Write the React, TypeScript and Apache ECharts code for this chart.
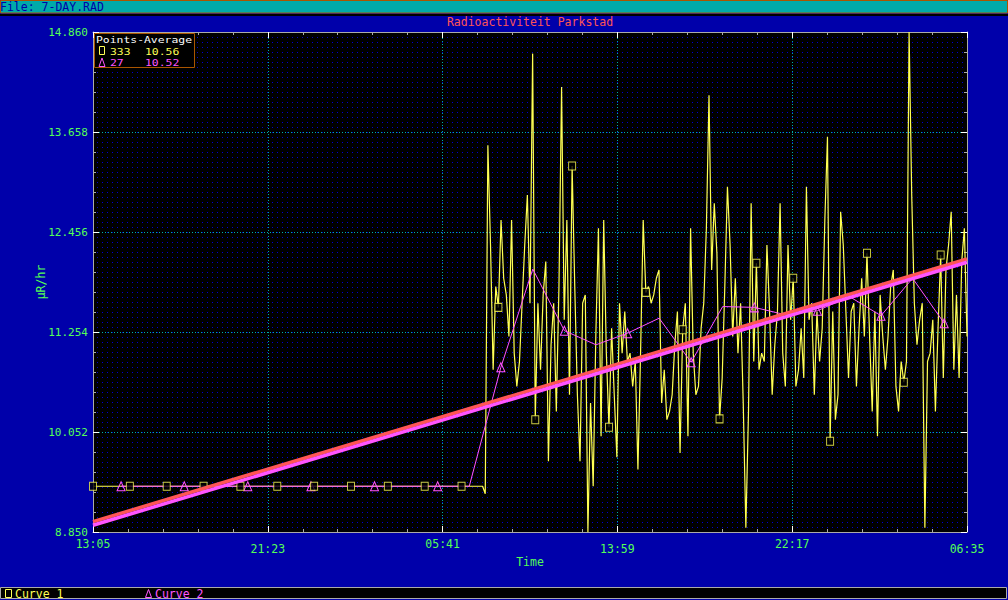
import React, { useEffect, useRef } from "react";
import * as echarts from "echarts";

// ---------- data ----------
const X_TICK_LABELS = ["13:05", "21:23", "05:41", "13:59", "22:17", "06:35"];
const X_MAX_MINUTES = 2490;
const X_STEP_MINUTES = 498;
const Y_MIN = 8.85;
const Y_MAX = 14.86;
const Y_STEP = 1.202;

// Curve 1: one reading every 7.5 minutes (333 points)
const SAMPLE_STEP_MINUTES = 7.5;
const CURVE1_VALUES = [
  9.4, 9.4, 9.4, 9.4, 9.4, 9.4, 9.4, 9.4, 9.4, 9.4, 9.4, 9.4, 9.4, 9.4,
  9.4, 9.4, 9.4, 9.4, 9.4, 9.4, 9.4, 9.4, 9.4, 9.4, 9.4, 9.4, 9.4, 9.4,
  9.4, 9.4, 9.4, 9.4, 9.4, 9.4, 9.4, 9.4, 9.4, 9.4, 9.4, 9.4, 9.4, 9.4,
  9.4, 9.4, 9.4, 9.4, 9.4, 9.4, 9.4, 9.4, 9.4, 9.4, 9.4, 9.4, 9.4, 9.4,
  9.4, 9.4, 9.4, 9.4, 9.4, 9.4, 9.4, 9.4, 9.4, 9.4, 9.4, 9.4, 9.4, 9.4,
  9.4, 9.4, 9.4, 9.4, 9.4, 9.4, 9.4, 9.4, 9.4, 9.4, 9.4, 9.4, 9.4, 9.4,
  9.4, 9.4, 9.4, 9.4, 9.4, 9.4, 9.4, 9.4, 9.4, 9.4, 9.4, 9.4, 9.4, 9.4,
  9.4, 9.4, 9.4, 9.4, 9.4, 9.4, 9.4, 9.4, 9.4, 9.4, 9.4, 9.4, 9.4, 9.4,
  9.4, 9.4, 9.4, 9.4, 9.4, 9.4, 9.4, 9.4, 9.4, 9.4, 9.4, 9.4, 9.4, 9.4,
  9.4, 9.4, 9.4, 9.4, 9.4, 9.4, 9.4, 9.4, 9.4, 9.4, 9.4, 9.4, 9.4, 9.4,
  9.4, 9.4, 9.4, 9.4, 9.4, 9.4, 9.4, 9.4, 9.4,
  9.31, 13.5, 12.3, 10.8, 11.8, 11.55, 12.6, 11.9, 11.7, 11.2,
  12.6, 11.0, 10.6, 10.9, 11.6, 12.3, 12.9, 11.6, 14.6, 10.2,
  11.6, 10.8, 11.7, 12.1, 9.7, 11.1, 11.6, 10.3, 11.8, 14.2,
  11.4, 12.6, 10.5, 13.25, 11.8, 10.5, 9.7, 11.6, 11.7, 8.85,
  10.4, 9.4, 11.2, 12.5, 10.0, 12.6, 11.0, 10.11, 11.3, 10.5,
  9.75, 11.6, 11.0, 11.5, 10.9, 11.0, 10.6, 10.9, 9.6, 11.0,
  12.6, 11.73, 11.8, 11.6, 11.7, 11.9, 12.0, 10.4, 10.8, 10.2,
  10.3, 10.5, 11.1, 11.5, 9.8, 11.28, 11.6, 10.0, 12.5, 11.0,
  10.5, 10.6, 11.3, 11.6, 12.5, 14.1, 12.0, 12.8, 12.2, 10.21,
  10.7, 11.8, 13.0, 12.3, 11.2, 11.9, 11.0, 11.6, 10.4, 8.9,
  10.3, 12.8, 10.9, 12.08, 10.8, 11.0, 10.9, 12.3, 11.5, 10.5,
  11.1, 11.5, 12.8, 11.0, 10.6, 12.3, 11.4, 11.9, 10.6, 10.8,
  11.3, 10.7, 13.0, 11.4, 11.6, 10.5, 11.5, 10.9, 11.3, 12.6,
  13.6, 9.94, 11.5, 10.2, 10.5, 12.7, 12.3, 11.5, 10.7, 11.5,
  11.6, 10.6, 11.3, 11.9, 11.2, 12.2, 11.2, 10.3, 11.5, 10.0,
  11.7, 11.2, 10.8, 11.2, 11.8, 12.0, 10.6, 10.3, 10.9, 10.65,
  10.9, 14.86, 12.9, 11.6, 11.1, 11.4, 11.6, 8.9, 10.9, 11.0,
  11.4, 10.3, 11.3, 12.18, 10.7, 12.0, 12.3, 12.7, 10.8, 11.7,
  10.7, 12.1, 12.5, 11.2,
];
const CURVE1_MARKER_EVERY = 14;

// Curve 2: 27 averaged points (minutes after 13:05)
const CURVE2_TIMES = [
  80, 170, 260, 351, 441, 531, 621, 711, 802, 892, 982, 1072, 1162, 1253,
  1343, 1433, 1523, 1613, 1704, 1794, 1884, 1974, 2064, 2155, 2245, 2335, 2425,
];
const CURVE2_VALUES = [
  9.4, 9.4, 9.4, 9.4, 9.4, 9.4, 9.4, 9.4, 9.4, 9.4, 9.4, 9.4, 10.83, 12.01,
  11.27, 11.1, 11.24, 11.42, 10.89, 11.56, 11.55, 11.46, 11.51, 11.68, 11.45, 11.9, 11.36,
];
const CURVE2_MARKER_EVERY = 2;

// Linear trend lines (start / end of the time range)
const TREND_TIMES = [0, 2490];
const TREND1_VALUES = [8.974, 12.131];
const TREND2_VALUES = [8.931, 12.092];

const LEGEND_TITLE = "Points-Average";
const LEGEND_ROWS = [
  { count: "333", avg: "10.56" },
  { count: "27", avg: "10.52" },
];
const CURVE_NAMES = ["Curve 1", "Curve 2"];
const TITLE = "Radioactiviteit Parkstad";
const FILE_LABEL = "File: 7-DAY.RAD";
const Y_NAME = "µR/hr";
const X_NAME = "Time";

// ---------- styles ----------
const BLUE = "#0000AA";
const DOT_BLUE = "#0000D0";
const CYAN = "#00AAAA";
const BROWN = "#AA5500";
const GRAY = "#AAAAAA";
const WHITE = "#FFFFFF";
const GREEN = "#55FF55";
const YELLOW = "#FFFF55";
const MAGENTA = "#FF55FF";
const RED = "#FF5555";
const MONO = '"DejaVu Sans Mono", "Liberation Mono", monospace';

export default function App() {
  const ref = useRef<HTMLDivElement | null>(null);

  useEffect(() => {
    if (!ref.current) return;
    const chart = echarts.init(ref.current, undefined, { renderer: "svg" });

    const cvs = document.createElement("canvas");
    cvs.width = 5;
    cvs.height = 5;
    const ctx = cvs.getContext("2d")!;
    ctx.fillStyle = "#000000";
    ctx.fillRect(0, 0, 5, 5);
    ctx.fillStyle = DOT_BLUE;
    ctx.fillRect(2, 2, 1, 1);
    const pattern: any = { image: cvs, repeat: "repeat", imageWidth: 5, imageHeight: 5 };

    const curve1 = CURVE1_VALUES.map((v, i) => [i * SAMPLE_STEP_MINUTES, v]);
    const curve1Markers = curve1.filter((_, i) => i % CURVE1_MARKER_EVERY === 0);
    const curve2 = CURVE2_TIMES.map((t, i) => [t, CURVE2_VALUES[i]]);
    const trend1 = TREND_TIMES.map((t, i) => [t, TREND1_VALUES[i]]);
    const trend2 = TREND_TIMES.map((t, i) => [t, TREND2_VALUES[i]]);

    const xCommon: any = {
      type: "value",
      min: 0,
      max: X_MAX_MINUTES,
      interval: X_STEP_MINUTES,
      axisLine: { show: true, onZero: false, lineStyle: { color: GRAY, width: 1 } },
      axisTick: { show: true, inside: true, length: 6, lineStyle: { color: WHITE } },
      minorTick: { show: true, splitNumber: 5, length: 3, lineStyle: { color: GRAY } },
    };
    const yCommon: any = {
      type: "value",
      min: Y_MIN,
      max: Y_MAX,
      interval: Y_STEP,
      axisLine: { show: true, onZero: false, lineStyle: { color: GRAY, width: 1 } },
      axisTick: { show: true, inside: true, length: 6, lineStyle: { color: WHITE } },
      minorTick: { show: true, splitNumber: 5, length: 3, lineStyle: { color: GRAY } },
    };
    const gridLine = {
      show: true,
      showMinLine: false,
      showMaxLine: false,
      lineStyle: { color: CYAN, width: 1, type: [1, 2] },
    };

    const txt = (
      text: string,
      x: number,
      y: number,
      fill: string,
      align = "left",
      size = 11.5,
      sx = 1
    ) => ({
      type: "text",
      x,
      y,
      scaleX: sx,
      z: 100,
      silent: true,
      style: {
        text,
        fill,
        fontSize: size,
        fontFamily: MONO,
        textAlign: align,
        textVerticalAlign: "middle",
      },
    });

    const option: any = {
      animation: false,
      backgroundColor: BLUE,
      grid: {
        left: 93,
        top: 32,
        width: 874,
        height: 500,
        show: true,
        backgroundColor: pattern,
        borderWidth: 0,
        outerBoundsMode: "none",
      },
      xAxis: [
        {
          ...xCommon,
          position: "bottom",
          name: X_NAME,
          nameLocation: "middle",
          nameGap: 24,
          nameMoveOverlap: false,
          nameTextStyle: { color: GREEN, fontFamily: MONO, fontSize: 11.5 },
          axisLabel: {
            show: true,
            margin: 6,
            showMinLabel: true,
            showMaxLabel: true,
            formatter: (_v: number, idx: number) =>
              idx % 2 === 0 ? `{a|${X_TICK_LABELS[idx] ?? ""}}` : `{b|${X_TICK_LABELS[idx] ?? ""}}`,
            rich: {
              a: { color: GREEN, fontFamily: MONO, fontSize: 11.5, lineHeight: 12 },
              b: { color: GREEN, fontFamily: MONO, fontSize: 11.5, lineHeight: 22 },
            },
          },
          splitLine: gridLine,
        },
        {
          ...xCommon,
          position: "top",
          axisLabel: { show: false },
          splitLine: { show: false },
        },
      ],
      yAxis: [
        {
          ...yCommon,
          position: "left",
          name: Y_NAME,
          nameLocation: "middle",
          nameRotate: 90,
          nameGap: 46,
          nameMoveOverlap: false,
          nameTextStyle: { color: GREEN, fontFamily: MONO, fontSize: 11.5 },
          axisLabel: {
            show: true,
            margin: 5,
            color: GREEN,
            fontFamily: MONO,
            fontSize: 11,
            showMinLabel: true,
            showMaxLabel: true,
            formatter: (v: number) => v.toFixed(3),
          },
          splitLine: gridLine,
        },
        {
          ...yCommon,
          position: "right",
          axisLabel: { show: false },
          splitLine: { show: false },
        },
      ],
      series: [
        {
          name: CURVE_NAMES[0],
          type: "line",
          data: curve1,
          showSymbol: false,
          silent: true,
          z: 2,
          lineStyle: { color: YELLOW, width: 1.2 },
          itemStyle: { color: YELLOW },
        },
        {
          name: CURVE_NAMES[1],
          type: "line",
          data: curve2,
          silent: true,
          z: 3,
          showSymbol: true,
          showAllSymbol: true,
          symbol: (_v: any, p: any) => (p.dataIndex % CURVE2_MARKER_EVERY === 0 ? "triangle" : "none"),
          symbolSize: [8, 9],
          lineStyle: { color: MAGENTA, width: 1 },
          itemStyle: { color: "rgba(0,0,0,0)", borderColor: MAGENTA, borderWidth: 1 },
        },
        {
          name: CURVE_NAMES[0] + " markers",
          type: "scatter",
          data: curve1Markers,
          silent: true,
          z: 4,
          symbol: "rect",
          symbolSize: [7, 8],
          itemStyle: { color: "#000000", borderColor: YELLOW, borderWidth: 1 },
        },
        {
          name: "Trend 1",
          type: "line",
          data: trend1,
          showSymbol: false,
          silent: true,
          z: 5,
          lineStyle: { color: RED, width: 3.5 },
        },
        {
          name: "Trend 2",
          type: "line",
          data: trend2,
          showSymbol: false,
          silent: true,
          z: 5,
          lineStyle: { color: MAGENTA, width: 3.5 },
        },
      ],
      graphic: [
        // top file bar
        {
          type: "rect",
          z: 100,
          silent: true,
          shape: { x: 0.5, y: 0.5, width: 1007, height: 12.5 },
          style: { fill: CYAN, stroke: BROWN, lineWidth: 1 },
        },
        {
          type: "rect",
          z: 100,
          silent: true,
          shape: { x: 0, y: 14, width: 1008, height: 2 },
          style: { fill: "#000000" },
        },
        txt(FILE_LABEL, 0, 7, BLUE),
        txt(TITLE, 530, 22, RED, "center"),
        // legend box
        {
          type: "rect",
          z: 100,
          silent: true,
          shape: { x: 94.5, y: 33.5, width: 100, height: 34 },
          style: { fill: "#000000", stroke: BROWN, lineWidth: 1 },
        },
        txt(LEGEND_TITLE, 96, 39.5, WHITE, "left", 9.5, 1.2),
        {
          type: "rect",
          z: 101,
          silent: true,
          shape: { x: 99.5, y: 46.5, width: 5, height: 8 },
          style: { fill: "none", stroke: YELLOW, lineWidth: 1 },
        },
        txt(LEGEND_ROWS[0].count, 110, 51, YELLOW, "left", 9.5, 1.2),
        txt(LEGEND_ROWS[0].avg, 145, 51, YELLOW, "left", 9.5, 1.2),
        {
          type: "polygon",
          z: 101,
          silent: true,
          shape: { points: [[99, 66.5], [102, 58], [105, 66.5]] },
          style: { fill: "none", stroke: MAGENTA, lineWidth: 1 },
        },
        txt(LEGEND_ROWS[1].count, 110, 62.5, MAGENTA, "left", 9.5, 1.2),
        txt(LEGEND_ROWS[1].avg, 145, 62.5, MAGENTA, "left", 9.5, 1.2),
        // bottom curve bar
        {
          type: "rect",
          z: 100,
          silent: true,
          shape: { x: 0.5, y: 587.5, width: 1006, height: 11 },
          style: { fill: "#000000", stroke: GRAY, lineWidth: 1 },
        },
        {
          type: "rect",
          z: 101,
          silent: true,
          shape: { x: 5.5, y: 589.5, width: 6, height: 8 },
          style: { fill: "none", stroke: YELLOW, lineWidth: 1 },
        },
        txt(CURVE_NAMES[0], 15, 593.5, YELLOW),
        {
          type: "polygon",
          z: 101,
          silent: true,
          shape: { points: [[145.5, 597.5], [148.5, 589.5], [151.5, 597.5]] },
          style: { fill: "none", stroke: MAGENTA, lineWidth: 1 },
        },
        txt(CURVE_NAMES[1], 155, 593.5, MAGENTA),
      ],
    };

    chart.setOption(option);
    return () => {
      chart.dispose();
    };
  }, []);

  return (
    <div
      ref={ref}
      style={{ position: "fixed", left: 0, top: 0, width: 1008, height: 600 }}
    />
  );
}
